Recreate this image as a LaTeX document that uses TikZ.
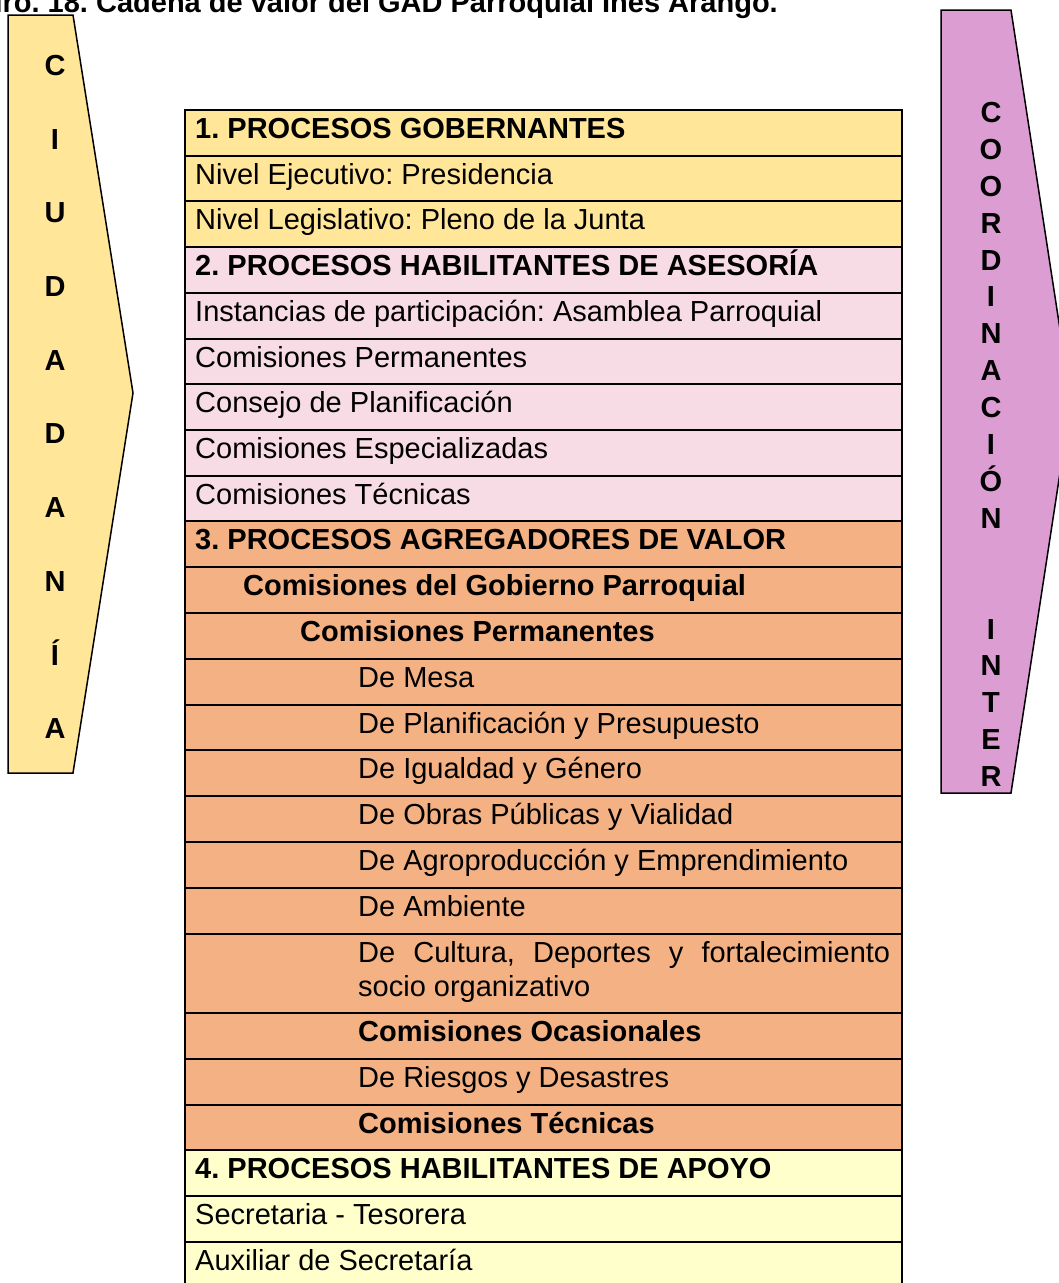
\documentclass[tikz,border=0pt]{standalone}
\usepackage{fontspec}
\setmainfont{Liberation Sans}
\definecolor{yelA}{HTML}{FFE699}
\definecolor{pinkB}{HTML}{F8DCE5}
\definecolor{salmC}{HTML}{F4B183}
\definecolor{yelD}{HTML}{FFFFCC}
\definecolor{plum}{HTML}{DC9DD2}
\newcommand{\myrow}[6]{%
  \path[cell, fill=#4] (185,#2) rectangle (902,#3);
  \node[txt] (#1) at (#5,#2+28.4) {#6};
}
\begin{document}
\frenchspacing
\begin{tikzpicture}[x=1pt,y=-1pt,
  cell/.style={draw=black, line width=1.5pt},
  txt/.style={anchor=base west, inner sep=0pt, font=\fontsize{29}{34}\selectfont},
  letter/.style={anchor=base, inner sep=0pt, font=\fontsize{29}{34}\selectfont\bfseries},
  arrowshape/.style={draw=black, line width=1.5pt, line join=miter}]
\useasboundingbox (0,0) rectangle (1059,1283);
\clip (0,0) rectangle (1059,1283);
% title (cut off at the top)
\node[anchor=base east, inner sep=0pt, font=\fontsize{29}{34}\selectfont\bfseries] (title) at (778,12) {Gráfico Nro. 18. Cadena de valor del GAD Parroquial Inés Arango.};
% left arrow
\path[arrowshape, fill=yelA] (8,15) -- (73,15) -- (133,393) -- (73,773) -- (8,773) -- cycle;
\foreach \l [count=\i from 0] in {C,I,U,D,A,D,A,N,Í,A}
  \node[letter] (ciu\i) at (55,{65+73.7*\i+10.4}) {\l};
% right arrow
\path[arrowshape, fill=plum] (941,10) -- (1011,10) -- (1071,401) -- (1011,793) -- (941,793) -- cycle;
\foreach \l [count=\i from 0] in {C,O,O,R,D,I,N,A,C,I,Ó,N}
  \node[letter] (coo\i) at (991,{112+36.9*\i+10.4}) {\l};
\foreach \l [count=\i from 14] in {I,N,T,E,R}
  \node[letter] (int\i) at (991,{112+36.9*\i+10.4}) {\l};
% table
\myrow{r0}{110}{156}{yelA}{195}{\bfseries 1. PROCESOS GOBERNANTES}
\myrow{r1}{156}{201}{yelA}{195}{Nivel Ejecutivo: Presidencia}
\myrow{r2}{201}{247}{yelA}{195}{Nivel Legislativo: Pleno de la Junta}
\myrow{r3}{247}{293}{pinkB}{195}{\bfseries 2. PROCESOS HABILITANTES DE ASESORÍA}
\myrow{r4}{293}{339}{pinkB}{195}{Instancias de participación: Asamblea Parroquial}
\myrow{r5}{339}{384}{pinkB}{195}{Comisiones Permanentes}
\myrow{r6}{384}{430}{pinkB}{195}{Consejo de Planificación}
\myrow{r7}{430}{476}{pinkB}{195}{Comisiones Especializadas}
\myrow{r8}{476}{521}{pinkB}{195}{Comisiones Técnicas}
\myrow{r9}{521}{567}{salmC}{195}{\bfseries 3. PROCESOS AGREGADORES DE VALOR}
\myrow{r10}{567}{613}{salmC}{243}{\bfseries Comisiones del Gobierno Parroquial}
\myrow{r11}{613}{659}{salmC}{300}{\bfseries Comisiones Permanentes}
\myrow{r12}{659}{705}{salmC}{358}{De Mesa}
\myrow{r13}{705}{750}{salmC}{358}{De Planificación y Presupuesto}
\myrow{r14}{750}{796}{salmC}{358}{De Igualdad y Género}
\myrow{r15}{796}{842}{salmC}{358}{De Obras Públicas y Vialidad}
\myrow{r16}{842}{888}{salmC}{358}{De Agroproducción y Emprendimiento}
\myrow{r17}{888}{934}{salmC}{358}{De Ambiente}
\path[cell, fill=salmC] (185,934) rectangle (902,1013);
\node[txt, align=left] (r18) at (358,996.4)
  {\hbox to 532pt{De\hfil Cultura,\hfil Deportes\hfil y\hfil fortalecimiento}\\socio organizativo};
\myrow{r19}{1013}{1059}{salmC}{358}{\bfseries Comisiones Ocasionales}
\myrow{r20}{1059}{1105}{salmC}{358}{De Riesgos y Desastres}
\myrow{r21}{1105}{1150}{salmC}{358}{\bfseries Comisiones Técnicas}
\myrow{r22}{1150}{1196}{yelD}{195}{\bfseries 4. PROCESOS HABILITANTES DE APOYO}
\myrow{r23}{1196}{1242}{yelD}{195}{Secretaria - Tesorera}
\myrow{r24}{1242}{1288}{yelD}{195}{Auxiliar de Secretaría}
\end{tikzpicture}
\end{document}
